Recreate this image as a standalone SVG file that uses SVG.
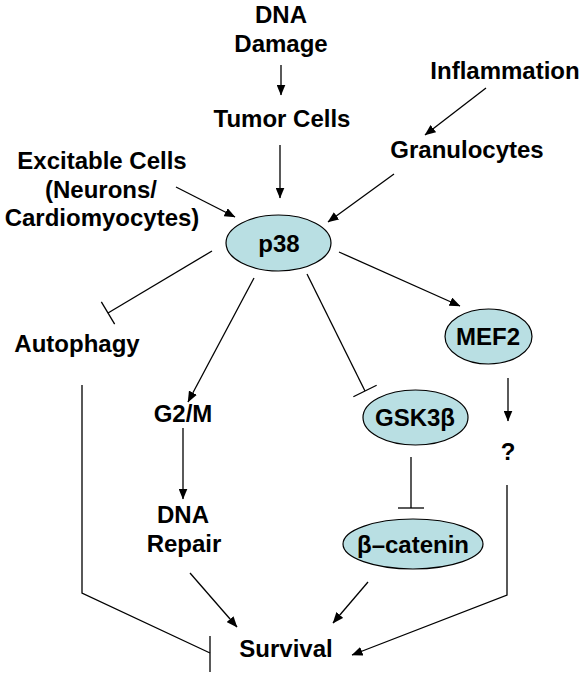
<svg xmlns="http://www.w3.org/2000/svg" width="584" height="679" viewBox="0 0 584 679">
<style>
.t{font-family:"Liberation Sans",Arial,sans-serif;font-weight:bold;font-size:24px;fill:#000;text-anchor:middle}
.n{fill:#b9dfe3;stroke:#000;stroke-width:1.2}
.c{fill:none;stroke:#000;stroke-width:1.3}
.a{marker-end:url(#arr)}
.i{marker-end:url(#bar)}
</style>
<defs>
<marker id="arr" markerUnits="userSpaceOnUse" viewBox="0 0 11 9" markerWidth="11" markerHeight="9" refX="10.5" refY="4.5" orient="auto">
<path d="M0,0 L11,4.5 L0,9 z" fill="#000"/>
</marker>
<marker id="bar" markerUnits="userSpaceOnUse" viewBox="-2 -15 4 30" markerWidth="4" markerHeight="30" refX="0" refY="0" orient="auto">
<path d="M0,-13 V13" stroke="#000" stroke-width="1.3"/>
</marker>
</defs>
<g id="connectors">
<line class="c a" x1="281" y1="65" x2="281" y2="95"/>
<line class="c a" x1="280" y1="145" x2="280" y2="198"/>
<line class="c a" x1="486" y1="88" x2="425" y2="135"/>
<line class="c a" x1="394" y1="174" x2="328" y2="222"/>
<line class="c a" x1="176" y1="187" x2="235" y2="217"/>
<line class="c a" x1="339" y1="252" x2="460" y2="306"/>
<line class="c a" x1="254" y1="278" x2="188" y2="402"/>
<line class="c a" x1="508" y1="378" x2="508" y2="421"/>
<line class="c a" x1="183" y1="428" x2="183" y2="499"/>
<line class="c a" x1="190" y1="573" x2="237" y2="627"/>
<line class="c a" x1="368" y1="582" x2="333" y2="623"/>
<polyline class="c a" points="507,485 507,595 352,655"/>
<line class="c i" x1="212" y1="251" x2="108" y2="313"/>
<line class="c i" x1="307" y1="274" x2="365" y2="391"/>
<line class="c i" x1="411" y1="457" x2="411" y2="508"/>
<polyline class="c" points="82,385 82,593 210,653"/>
<line class="c" x1="210" y1="636" x2="210" y2="672"/>
</g>
<g id="dna-damage"><text class="t" x="281" y="23">DNA</text><text class="t" x="281" y="52">Damage</text></g>
<g id="tumor-cells"><text class="t" x="282" y="127">Tumor Cells</text></g>
<g id="inflammation"><text class="t" x="505" y="79">Inflammation</text></g>
<g id="granulocytes"><text class="t" x="467" y="158">Granulocytes</text></g>
<g id="excitable-cells"><text class="t" x="102" y="169">Excitable Cells</text><text class="t" x="101" y="198">(Neurons/</text><text class="t" x="102" y="226">Cardiomyocytes)</text></g>
<g id="p38"><ellipse class="n" cx="278.5" cy="243" rx="52.5" ry="28"/><text class="t" x="279" y="252">p38</text></g>
<g id="autophagy"><text class="t" x="77" y="352">Autophagy</text></g>
<g id="mef2"><ellipse class="n" cx="488.5" cy="336.5" rx="43.5" ry="27.5"/><text class="t" x="488" y="345">MEF2</text></g>
<g id="g2m"><text class="t" x="183" y="422">G2/M</text></g>
<g id="gsk3b"><ellipse class="n" cx="415.5" cy="417.5" rx="52.5" ry="27.5"/><text class="t" x="415" y="426">GSK3β</text></g>
<g id="question"><text class="t" x="508" y="460">?</text></g>
<g id="dna-repair"><text class="t" x="183" y="523">DNA</text><text class="t" x="184" y="552">Repair</text></g>
<g id="beta-catenin"><ellipse class="n" cx="413" cy="544" rx="70" ry="25"/><text class="t" x="413" y="553">β–catenin</text></g>
<g id="survival"><text class="t" x="286" y="657">Survival</text></g>
</svg>
